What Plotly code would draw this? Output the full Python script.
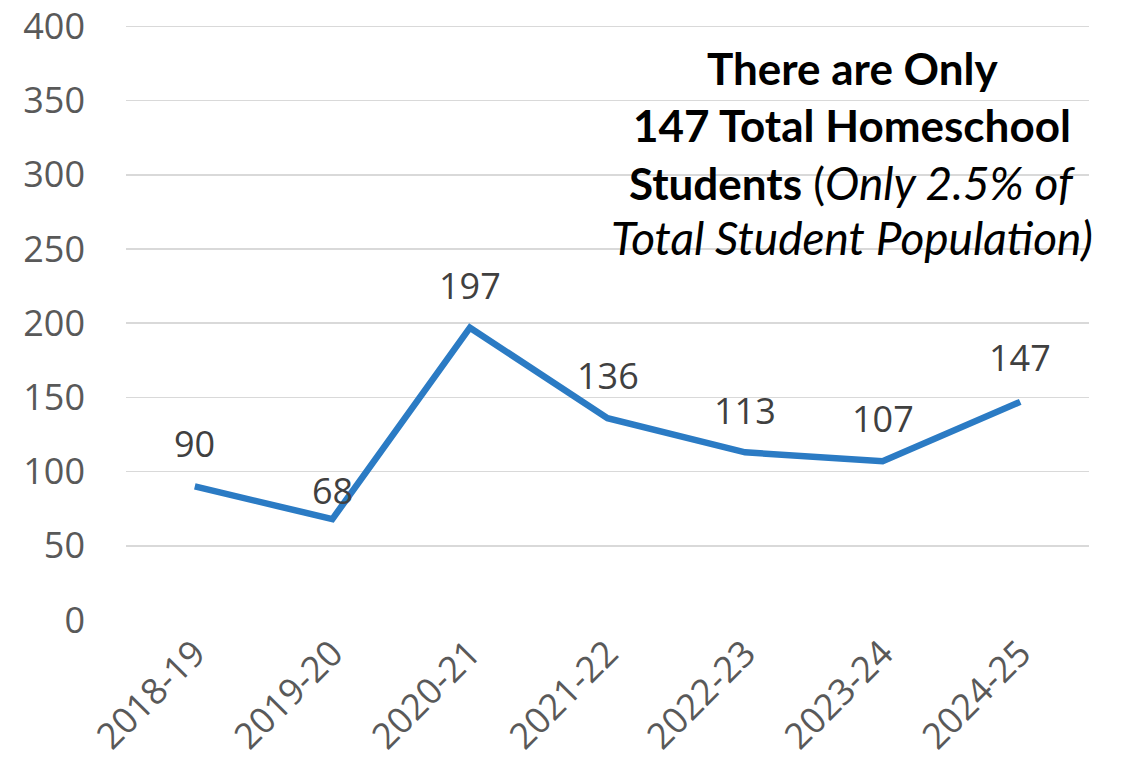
import plotly.graph_objects as go

years = ["2018-19", "2019-20", "2020-21", "2021-22", "2022-23", "2023-24", "2024-25"]
students = [90, 68, 197, 136, 113, 107, 147]
label_shift = [43, 29, 42, 43, 42, 43, 44]

title_lines = [
    "<b>There are Only</b>",
    "<b>147 Total Homeschool</b>",
    "<b>Students</b> (<i><span style='font-size:46px'>Only 2.5% of</span></i>",
    "<i><span style='font-size:46px'>Total Student Population)</span></i>",
]
title_y_px = [68, 125, 183, 238]

# plot area in page px: x 126-1089, y 25-620 (body margin removed via post_script)
W, H = 1123, 775
ml, mr, mt, mb = 126, 34, 25, 155
plot_h = H - mt - mb
plot_w = W - ml - mr

fig = go.Figure()
fig.add_trace(go.Scatter(
    x=years, y=students, mode="lines",
    line=dict(color="#2B7BC4", width=6.5),
    hoverinfo="skip", showlegend=False,
))

for xv, yv, s in zip(years, students, label_shift):
    fig.add_annotation(x=xv, y=yv, text=str(yv), showarrow=False,
                       yshift=s, font=dict(family="Open Sans", size=36, color="#404040"))

for t, yp in zip(title_lines, title_y_px):
    fig.add_annotation(xref="paper", yref="paper",
                       x=(852 - ml) / plot_w, y=(H - mb - yp) / plot_h,
                       text=t, showarrow=False, xanchor="center", yanchor="middle",
                       font=dict(family="Lato", size=44, color="#000000"))

fig.update_layout(
    width=W, height=H,
    margin=dict(l=ml, r=mr, t=mt, b=mb, autoexpand=False),
    plot_bgcolor="white", paper_bgcolor="white",
    font=dict(family="Open Sans", color="#595959"),
)
fig.update_xaxes(
    type="category", tickangle=-45, showgrid=False, showline=False, ticks="",
    tickfont=dict(family="Open Sans", size=36, color="#595959"),
    range=[-0.5, len(years) - 0.5], ticklabelstandoff=4, automargin=False,
)
fig.update_yaxes(
    range=[0, 401], dtick=50, tick0=0, showgrid=True, gridcolor="#D9D9D9", gridwidth=1.5,
    zeroline=False, showline=False, ticks="", ticklabelstandoff=40,
    ticklabeloverflow="allow", automargin=False,
    tickfont=dict(family="Open Sans", size=36, color="#595959"),
)

fig.write_html("out.html",
               config={"displayModeBar": False, "staticPlot": True},
               post_script="document.body.style.margin='0';document.body.style.overflow='hidden';")
